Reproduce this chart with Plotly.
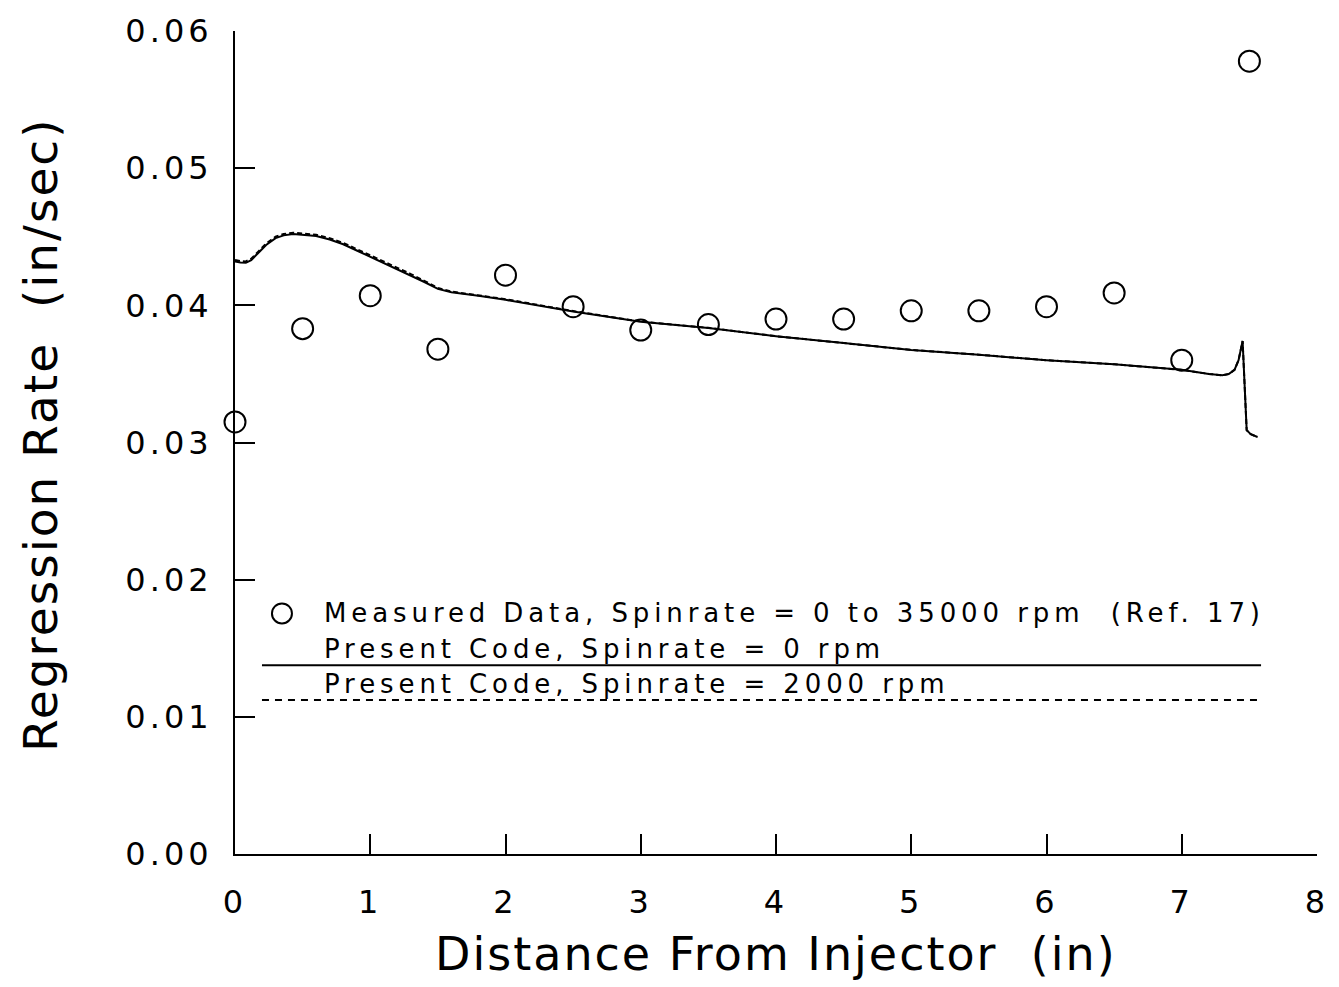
import plotly.graph_objects as go

# Measured data (Ref. 17)
meas_x = [0.0, 0.5, 1.0, 1.5, 2.0, 2.5, 3.0, 3.5, 4.0, 4.5, 5.0, 5.5, 6.0, 6.5, 7.0, 7.5]
meas_y = [0.0315, 0.0383, 0.0407, 0.0368, 0.0422, 0.0399, 0.0382, 0.0386, 0.0390,
          0.0390, 0.0396, 0.0396, 0.0399, 0.0409, 0.0360, 0.0578]

# Present code, spinrate = 0 rpm
code0_x = [0.0, 0.04, 0.08, 0.12, 0.17, 0.23, 0.30, 0.36, 0.43, 0.50, 0.60, 0.70, 0.80,
           0.90, 1.00, 1.10, 1.20, 1.30, 1.40, 1.50, 1.60, 1.80, 2.00, 2.50, 3.00, 3.50,
           4.00, 4.50, 5.00, 5.50, 6.00, 6.50, 7.00, 7.20, 7.30, 7.35, 7.39, 7.42, 7.44,
           7.45, 7.48, 7.51, 7.56]
code0_y = [0.04320, 0.04312, 0.04310, 0.04330, 0.04380, 0.04440, 0.04490, 0.04510,
           0.04520, 0.04515, 0.04505, 0.04480, 0.04445, 0.04400, 0.04355, 0.04310,
           0.04265, 0.04220, 0.04170, 0.04120, 0.04095, 0.04070, 0.04040, 0.03955,
           0.03880, 0.03835, 0.03775, 0.03725, 0.03675, 0.03640, 0.03600, 0.03570,
           0.03530, 0.03500, 0.03490, 0.03500, 0.03530, 0.03600, 0.03680, 0.03740,
           0.03090, 0.03060, 0.03040]

# Present code, spinrate = 2000 rpm
code2_x = [0.0, 0.04, 0.08, 0.12, 0.17, 0.23, 0.30, 0.36, 0.43, 0.50, 0.60, 0.70, 0.80,
           0.90, 1.00, 1.10, 1.20, 1.30, 1.40, 1.50, 1.60, 1.80, 2.00, 2.50, 3.00, 3.50,
           4.00, 4.50, 5.00, 5.50, 6.00, 6.50, 7.00, 7.20, 7.30, 7.35, 7.39, 7.42, 7.44,
           7.45, 7.48, 7.51, 7.56]
code2_y = [0.04330, 0.04322, 0.04320, 0.04340, 0.04390, 0.04450, 0.04500, 0.04520,
           0.04530, 0.04525, 0.04515, 0.04490, 0.04455, 0.04410, 0.04365, 0.04320,
           0.04275, 0.04228, 0.04178, 0.04127, 0.04100, 0.04075, 0.04045, 0.03958,
           0.03882, 0.03836, 0.03775, 0.03725, 0.03675, 0.03640, 0.03600, 0.03570,
           0.03530, 0.03500, 0.03490, 0.03500, 0.03530, 0.03600, 0.03680, 0.03740,
           0.03090, 0.03060, 0.03040]

x_ticks = [0, 1, 2, 3, 4, 5, 6, 7, 8]
y_ticks = [0.00, 0.01, 0.02, 0.03, 0.04, 0.05, 0.06]

FONT = "DejaVu Sans"

fig = go.Figure()
fig.add_trace(go.Scatter(x=code2_x, y=code2_y, mode="lines",
                         line=dict(color="black", width=2, dash="5px,3px"),
                         showlegend=False, cliponaxis=False))
fig.add_trace(go.Scatter(x=code0_x, y=code0_y, mode="lines",
                         line=dict(color="black", width=2),
                         showlegend=False, cliponaxis=False))
fig.add_trace(go.Scatter(x=meas_x, y=meas_y, mode="markers",
                         marker=dict(symbol="circle-open", size=21, color="black",
                                     line=dict(width=2, color="black")),
                         showlegend=False, cliponaxis=False))

axis_common = dict(showgrid=False, zeroline=False, showline=True, linecolor="black",
                   linewidth=2, ticks="inside", ticklen=20, tickwidth=2,
                   tickcolor="black", tickfont=dict(family=FONT, size=32, color="black"))

fig.update_xaxes(range=[0, 8], tickvals=x_ticks, ticktext=[str(v) for v in x_ticks],
                 ticklabelstandoff=19, **axis_common)
fig.update_yaxes(range=[0, 0.06], tickvals=y_ticks,
                 ticktext=["%.2f" % v for v in y_ticks],
                 ticklabelstandoff=14, **axis_common)

# legend drawn inside plot (paper coordinates)
L, R, T, B = 235, 1318, 26, 854
W, H = R - L, B - T
px = lambda v: (v - L) / W
py = lambda v: (B - v) / H

annotations = [
    dict(text="Distance From Injector  (in)", x=0.5, y=py(955), xref="paper", yref="paper",
         xanchor="center", yanchor="middle", showarrow=False,
         font=dict(family=FONT, size=46, color="black")),
    dict(text="Regression Rate  (in/sec)", x=px(40), y=py(432), xref="paper", yref="paper",
         xanchor="center", yanchor="middle", textangle=-90, showarrow=False,
         font=dict(family=FONT, size=47, color="black")),
    dict(text="Measured Data, Spinrate = 0 to 35000 rpm  (Ref. 17)", x=px(322), y=py(612),
         xref="paper", yref="paper", xanchor="left", yanchor="middle", align="left",
         showarrow=False, font=dict(family=FONT, size=26, color="black")),
    dict(text="Present Code, Spinrate = 0 rpm", x=px(322), y=py(648),
         xref="paper", yref="paper", xanchor="left", yanchor="middle", align="left",
         showarrow=False, font=dict(family=FONT, size=26, color="black")),
    dict(text="Present Code, Spinrate = 2000 rpm", x=px(322), y=py(683),
         xref="paper", yref="paper", xanchor="left", yanchor="middle", align="left",
         showarrow=False, font=dict(family=FONT, size=26, color="black")),
]

shapes = [
    dict(type="circle", xref="paper", yref="paper", xsizemode="pixel", ysizemode="pixel",
         xanchor=px(282), yanchor=py(612), x0=-10, x1=10, y0=-10, y1=10,
         line=dict(color="black", width=2)),
    dict(type="line", xref="paper", yref="paper", x0=px(262), x1=px(1262),
         y0=py(664), y1=py(664), line=dict(color="black", width=2)),
    dict(type="line", xref="paper", yref="paper", x0=px(262), x1=px(1262),
         y0=py(699), y1=py(699), line=dict(color="black", width=2, dash="7px,6px")),
]

fig.update_layout(
    width=1339, height=987,
    margin=dict(l=L, r=1339 - R, t=T, b=987 - B),
    plot_bgcolor="white", paper_bgcolor="white",
    showlegend=False, annotations=annotations, shapes=shapes,
)

post = """
var gd = document.getElementById('{plot_id}');
function spaceText(){
  gd.querySelectorAll('.annotation-text').forEach(function(t){
    var s = t.textContent;
    if (s.indexOf('Present') === 0 || s.indexOf('Measured') === 0) { t.style.letterSpacing = '4.9px'; }
    else { t.style.letterSpacing = '2px'; }
  });
  gd.querySelectorAll('.ytick text, .xtick text').forEach(function(t){ t.style.letterSpacing = '4px'; });
}
spaceText();
gd.on('plotly_afterplot', spaceText);
"""

fig.write_html("out.html", post_script=post)
